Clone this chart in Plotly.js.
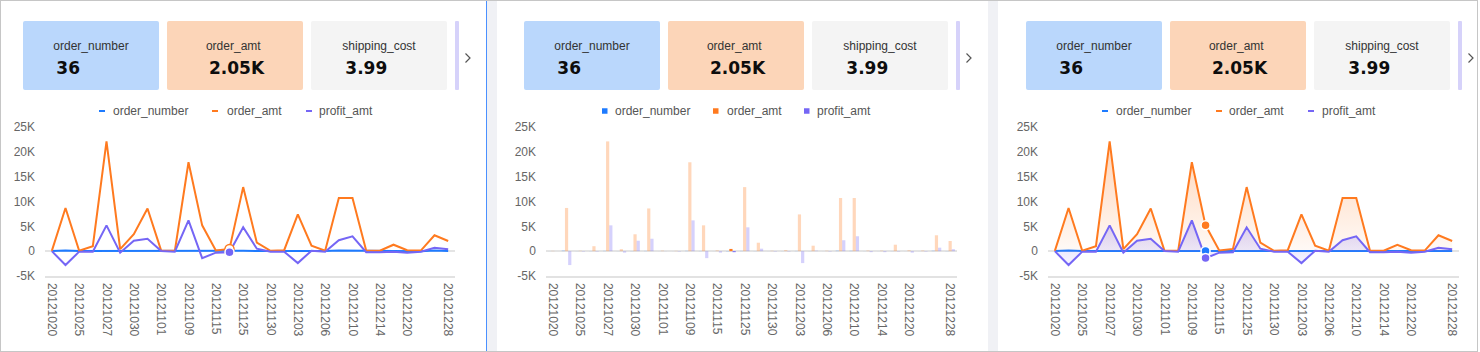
<!DOCTYPE html>
<html><head><meta charset="utf-8">
<script src="https://cdn.plot.ly/plotly-3.0.1.min.js"></script>
<style>
html,body{margin:0;padding:0;background:#fff;}
body{width:1480px;height:352px;position:relative;overflow:hidden;font-family:"Liberation Sans",Arial,sans-serif;}
.frame{position:absolute;left:0;top:0;width:1478px;height:352px;border:1px solid #c6c6c6;box-sizing:border-box;}
.strip{position:absolute;top:1px;height:350px;width:10px;background:#f0f1f5;}
.sel{position:absolute;top:1px;height:350px;width:1px;left:486px;background:#4a90ff;}
.card{position:absolute;top:21px;height:69px;width:136px;border-radius:2px;display:flex;justify-content:center;}
.card .in{padding-top:18px;}
.card .lab{font-size:12px;line-height:14px;color:#333;white-space:nowrap;}
.card .val{font-family:"DejaVu Sans",sans-serif;font-weight:bold;font-size:17px;line-height:20px;color:#0d0d0d;margin-top:5px;padding-left:3px;white-space:nowrap;}
.sliver{position:absolute;top:21px;height:69px;width:4px;background:#d6d2fa;border-radius:1px;}
.chev{position:absolute;top:52px;width:8px;height:12px;}
.chart{position:absolute;top:95px;height:256px;}
</style>
</head><body>
<div class="frame"></div>
<div class="strip" style="left:487px"></div>
<div class="strip" style="left:988px"></div>
<div class="sel"></div>
<div id="cards"></div>
<div id="c1" class="chart" style="left:1px;width:485px"></div>
<div id="c2" class="chart" style="left:497px;width:491px"></div>
<div id="c3" class="chart" style="left:998px;width:480px"></div>
<script>
// ---------------- data ----------------
const dates = ['20121020','20121024','20121025','20121026','20121027','20121029','20121030','20121031','20121101','20121105',
               '20121109','20121112','20121115','20121120','20121125','20121128','20121130','20121201','20121203','20121205',
               '20121206','20121208','20121210','20121212','20121214','20121218','20121220','20121224','20121226','20121228'];
const tickDates = ['20121020','20121025','20121027','20121030','20121101','20121109','20121115','20121125','20121130',
                   '20121203','20121206','20121210','20121214','20121220','20121228'];
const orderNumber = [12,140,20,30,70,15,40,60,10,8,80,45,12,25,60,30,10,15,50,20,10,120,90,15,12,25,10,8,110,36];
const orderAmt = [60,8700,80,1000,22100,400,3400,8600,100,60,17900,5200,150,450,12900,1700,80,200,7400,1100,
                  90,10700,10700,120,100,1300,180,120,3200,2050];
const profitAmt = [0,-2800,-100,-100,5200,-300,2100,2500,20,-100,6200,-1400,-300,-200,4800,500,-100,-100,-2400,100,
                   -100,2200,3000,-200,-200,-100,-300,-100,700,400];
const seriesNames = ['order_number','order_amt','profit_amt'];
const seriesColors = ['#1e7bff','#ff7a1f','#7566f5'];
const yTickVals = [-5000,0,5000,10000,15000,20000,25000];
const yTickText = ['-5K','0','5K','10K','15K','20K','25K'];
const kpiLabels = ['order_number','order_amt','shipping_cost'];
const kpiValues = ['36','2.05K','3.99'];
const kpiColors = ['#bad7fc','#fcd5b8','#f4f4f4'];

// ---------------- cards ----------------
const cardLefts = [23, 524, 1026];
let html = '';
cardLefts.forEach(cl => {
  kpiLabels.forEach((lab, i) => {
    html += `<div class="card" style="left:${cl + i*144}px;background:${kpiColors[i]}"><div class="in"><div class="lab">${lab}</div><div class="val">${kpiValues[i]}</div></div></div>`;
  });
  const sl = cl + 432;
  html += `<div class="sliver" style="left:${sl}px"></div>`;
  html += `<svg class="chev" style="left:${sl+9}px" viewBox="0 0 8 12"><polyline points="1.5,1.5 6,6 1.5,10.5" fill="none" stroke="#555" stroke-width="1.2"/></svg>`;
});
document.getElementById('cards').innerHTML = html;

// ---------------- charts ----------------
const PLOT_TOP = 32, PLOT_H = 149, DIV_H = 256;
function legendItems(plotLeftAbs, plotW, items, isBar){
  const shapes = [], annotations = [];
  const yLeg = (PLOT_TOP + PLOT_H + 95 - 111) / PLOT_H; // paper y of legend center (abs y=111)
  items.forEach((it, i) => {
    const x0 = (it.dash - plotLeftAbs) / plotW;
    const x1 = (it.dash + 6 - plotLeftAbs) / plotW;
    if (isBar) {
      shapes.push({type:'rect', xref:'paper', yref:'paper', x0, x1: (it.dash + 5.5 - plotLeftAbs)/plotW,
        y0: yLeg - 2.75/PLOT_H, y1: yLeg + 2.75/PLOT_H, fillcolor: seriesColors[i], line:{width:0}});
    } else {
      shapes.push({type:'line', xref:'paper', yref:'paper', x0, x1, y0: yLeg, y1: yLeg,
        line:{color: seriesColors[i], width:2}});
    }
    annotations.push({xref:'paper', yref:'paper', x: (it.text - 1 - plotLeftAbs)/plotW, y: yLeg,
      xanchor:'left', yanchor:'middle', text: seriesNames[i], showarrow:false,
      font:{size:12, color:'#555', family:'"Liberation Sans", Arial, sans-serif'}});
  });
  return {shapes, annotations};
}

function baseLayout(divLeft, divW, plotLeftAbs, plotRightAbs, legend, isBar){
  const plotW = plotRightAbs - plotLeftAbs;
  const leg = legendItems(plotLeftAbs, plotW, legend, isBar);
  return {
    width: divW, height: DIV_H,
    margin: {l: plotLeftAbs - divLeft, r: divLeft + divW - plotRightAbs, t: PLOT_TOP, b: DIV_H - PLOT_TOP - PLOT_H, pad: 0},
    paper_bgcolor: 'rgba(0,0,0,0)', plot_bgcolor: 'rgba(0,0,0,0)',
    showlegend: false,
    font: {family: '"Liberation Sans", Arial, sans-serif', size: 12, color: '#666'},
    xaxis: {type:'category', categoryorder:'array', categoryarray: dates, range:[-0.5, dates.length-0.5],
      tickmode:'array', tickvals: tickDates, ticktext: tickDates, tickangle: 90,
      tickfont:{size:12, color:'#666'}, showgrid:false, zeroline:false, showline:true, linecolor:'#e2e2e2', linewidth:1.5,
      ticks:'', fixedrange:true, automargin:false, ticklabelstandoff: 3},
    yaxis: {range:[-5000, 25000], tickmode:'array', tickvals: yTickVals, ticktext: yTickText,
      tickfont:{size:12, color:'#666'}, showgrid:false, zeroline:true, zerolinecolor:'#e4e4e4', zerolinewidth:1.5,
      showline:false, ticks:'', fixedrange:true, automargin:false, ticklabelstandoff: 9},
    shapes: leg.shapes, annotations: leg.annotations,
    bargap: 0.3, bargroupgap: 0, barmode: 'group'
  };
}
const cfg = {staticPlot:true, displayModeBar:false};
const allSeries = [orderNumber, orderAmt, profitAmt];

// Panel 1: lines, hover at index 13
(function(){
  const h = 13;
  const traces = allSeries.map((ys, i) => ({type:'scatter', mode:'lines', x: dates, y: ys, name: seriesNames[i],
    line:{color: seriesColors[i], width:2}}));
  traces.push({type:'scatter', mode:'markers', x:[dates[h]], y:[orderAmt[h]],
    marker:{size:9, color:'#fff', line:{color: seriesColors[1], width:1.5}}});
  traces.push({type:'scatter', mode:'markers', x:[dates[h]], y:[profitAmt[h]],
    marker:{size:9, color: seriesColors[2], line:{color:'#fff', width:1.5}}});
  const legend = [{dash:99, text:112},{dash:212, text:226},{dash:306, text:318}];
  Plotly.newPlot('c1', traces, baseLayout(1, 485, 45, 455, legend, false), cfg);
})();

// Panel 2: grouped bars, hover at index 13
(function(){
  const h = 13;
  const traces = allSeries.map((ys, i) => ({type:'bar', x: dates, y: ys, name: seriesNames[i],
    marker:{color: seriesColors[i], opacity: dates.map((d, k) => k === h ? 1 : 0.3), line:{width:0}}}));
  const legend = [{dash:602, text:614},{dash:713, text:726},{dash:804, text:816}];
  Plotly.newPlot('c2', traces, baseLayout(497, 491, 546, 957, legend, true), cfg);
})();

// Panel 3: gradient areas, hover at index 11
(function(){
  const h = 11;
  const fills = [['rgba(30,123,255,0.02)','rgba(30,123,255,0.15)'],
                 ['rgba(255,122,31,0.04)','rgba(255,122,31,0.32)'],
                 ['rgba(117,102,245,0.06)','rgba(117,102,245,0.28)']];
  const traces = allSeries.map((ys, i) => ({type:'scatter', mode:'lines', x: dates, y: ys, name: seriesNames[i],
    line:{color: seriesColors[i], width:2}, fill:'tozeroy',
    fillgradient:{type:'vertical', colorscale:[[0, fills[i][0]],[1, fills[i][1]]]}}));
  allSeries.forEach((ys, i) => traces.push({type:'scatter', mode:'markers', x:[dates[h]], y:[ys[h]],
    marker:{size:9, color: seriesColors[i], line:{color:'#fff', width:1.5}}}));
  const legend = [{dash:1102, text:1115},{dash:1216, text:1228},{dash:1308, text:1321}];
  Plotly.newPlot('c3', traces, baseLayout(998, 480, 1048, 1459, legend, false), cfg);
})();
</script>
</body></html>
